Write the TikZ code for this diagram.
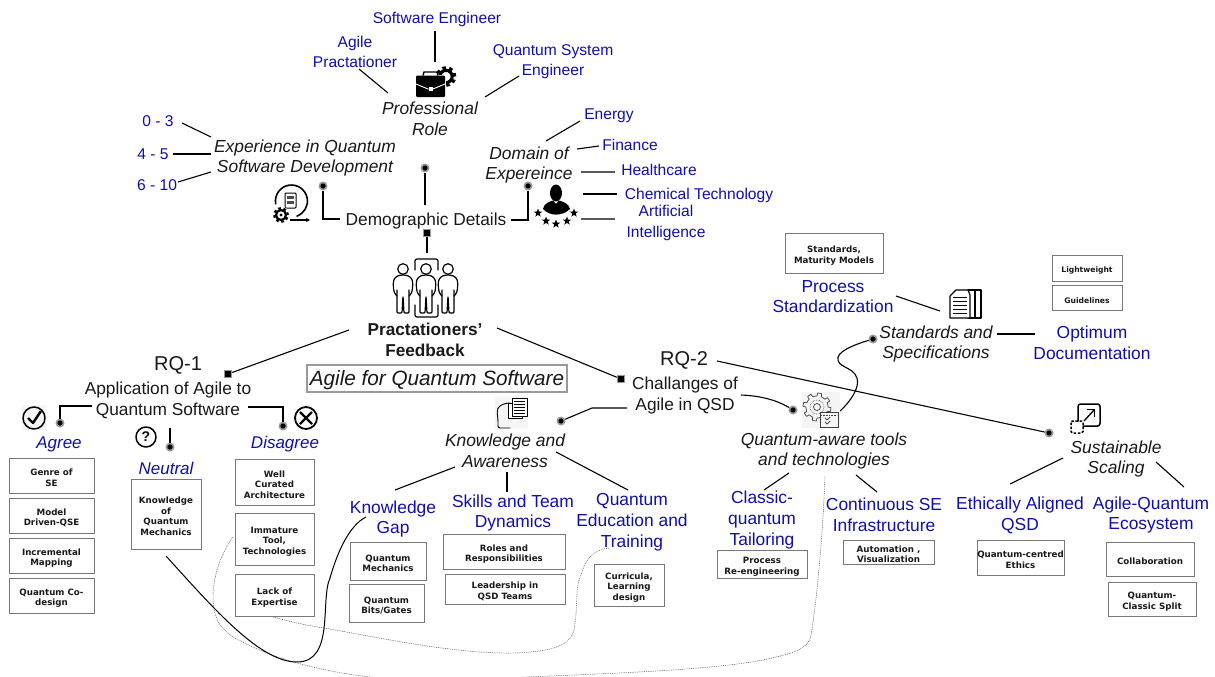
\documentclass[tikz,border=0pt]{standalone}
\usepackage{fontspec}
\setmainfont{Liberation Sans}
\newfontfamily\boxfont{DejaVu Sans}[BoldFont={DejaVu Sans Bold}]
\usetikzlibrary{shapes.geometric,calc,arrows.meta}
\definecolor{lbl}{HTML}{1010A8}
\definecolor{edgegray}{HTML}{787878}
\tikzset{
  x=1pt,y=-1pt,
  every node/.style={inner sep=0pt,outer sep=0pt,align=center},
  txt/.style={font=\fontsize{17.3}{20.8}\selectfont,text=black!90,yshift=-2pt},
  lab/.style={font=\fontsize{15.6}{20.6}\selectfont,text=lbl,yshift=-2pt},
  labb/.style={font=\fontsize{17.4}{20.8}\selectfont,text=lbl,yshift=-2pt},
  labi/.style={font=\fontsize{17}{20}\selectfont\itshape,text=lbl,yshift=-2pt},
  ital/.style={font=\fontsize{17.4}{20.8}\selectfont\itshape,text=black!90,yshift=-2pt},
  rq/.style={font=\fontsize{20}{24}\selectfont,text=black!90,yshift=-2pt},
  tbox/.style={draw=edgegray,line width=1pt,fill=white,font=\boxfont\bfseries\fontsize{8.7}{10.5}\selectfont,text=black!90},
  conn/.style={draw=black,line width=1.1pt},
  dotline/.style={draw=black!65,line width=.5pt,dash pattern=on .9pt off .9pt},
  ico/.style={draw=black,line width=1.2pt,line cap=round,line join=round},
  halo/.style={circle,fill=black!40,minimum size=9pt},
  sqhalo/.style={rectangle,fill=black!40,minimum size=8.5pt},
}
\newcommand\lnk[4][]{\coordinate (#2a) at (#3);\coordinate (#2b) at (#4);\draw[conn,#1] (#2a) -- (#2b);}
\newcommand\bx[6]{\node[tbox,minimum width={(#3-#1)*1pt},minimum height={(#4-#2)*1pt}] (#6) at ({(#1+#3)/2},{(#2+#4)/2}) {\rule{0pt}{11.5pt}#5};}
\newcommand\dotnode[2]{\node[halo] (#1) at (#2) {};\fill[black] (#1.center) circle (2.6pt);}
\newcommand\sqnode[2]{\node[sqhalo] (#1) at (#2) {};\fill[black] ($(#1.center)+(-2.8,-2.8)$) rectangle ($(#1.center)+(2.8,2.8)$);}
\newcommand\gearicon[4][black]{% centre, radius, ring width
  \pgfmathsetmacro\gearD{3.14159*(#3+#4*.8)/8}
  \draw[#1,line width=#4pt] (#2) circle (#3pt);
  \draw[#1,line width=#4pt,dash pattern=on \gearD pt off \gearD pt] (#2) circle ({(#3+#4*.8)*1pt});
}
\newcommand\personicon[1]{\begin{scope}[shift={(#1,0)}]
  \draw[ico] (0,269) circle (5.3pt);
  \draw[ico,rounded corners=3pt] (-6,296) -- (-9,293) -- (-10,282) -- (-8,277) -- (-3,275) -- (3,275) -- (8,277) -- (10,282) -- (9,293) -- (6,296);
  \draw[ico,rounded corners=1pt] (-6,290) -- (-6,313) -- (-1,313) -- (0,296) -- (1,313) -- (6,313) -- (6,290);
\end{scope}}
\begin{document}
\begin{tikzpicture}
\useasboundingbox (0,0) rectangle (1215,677);
\fill[white] (0,0) rectangle (1215,677);

% ---- curved dotted / solid overlays
\coordinate (d1a) at (233,537);\coordinate (d1b) at (825,476);
\draw[dotline] (d1a) .. controls (222,552) and (213,575) .. (213,597) .. controls (213,620) and (222,630) .. (235,638) .. controls (265,655) and (310,670) .. (370,677) .. controls (420,681) and (480,679) .. (527,677) .. controls (620,673) and (710,670) .. (763,660) .. controls (790,654) and (808,650) .. (811,636) .. controls (818,590) and (823,530) .. (d1b);
\coordinate (d2a) at (270,616);\coordinate (d2b) at (610,548);
\draw[dotline] (d2a) .. controls (290,622) and (310,626) .. (330,629) .. controls (390,640) and (460,654) .. (513,653) .. controls (545,652) and (570,648) .. (574,630) .. controls (579,600) and (574,590) .. (582,572) .. controls (586,558) and (595,549) .. (d2b);

\coordinate (s1a) at (166,556);\coordinate (s1b) at (366,517);
\draw[black,line width=1pt] (s1a) .. controls (215,610) and (260,662) .. (297,662) .. controls (335,662) and (320,600) .. (330,578) .. controls (338,550) and (350,525) .. (s1b);

% ---- text nodes: top
\node[lab] (swe) at (437,17) {Software Engineer};
\node[lab] (agp) at (355,50) {Agile\\Practationer};
\node[lab] (qse) at (553,59.5) {Quantum System\\Engineer};
\node[ital] (prof) at (430,117) {Professional\\Role};
\node[ital] (expq) at (305,156) {Experience in Quantum\\Software Development};
\node[lab] (e03) at (158,119) {0 - 3};
\node[lab] (e45) at (153,152) {4 - 5};
\node[lab] (e610) at (157,183) {6 - 10};
\node[ital] (dom) at (529,163) {Domain of\\Expereince};
\node[lab] (en) at (609,114) {Energy};
\node[lab] (fin) at (630,143) {Finance};
\node[lab] (hc) at (659,168) {Healthcare};
\node[lab] (chem) at (699,193) {Chemical Technology};
\node[lab] (ai) at (666,221) {Artificial\\Intelligence};
\node[txt] (demo) at (426,219) {Demographic Details};
\node[font=\fontsize{17.2}{20.8}\selectfont\bfseries,text=black!90,yshift=-1pt] (pf) at (425,339) {Practationers'\\Feedback};
\node[draw=black!40,line width=1.5pt,fill=white,minimum width=260pt,minimum height=27pt,font=\fontsize{20.7}{24}\selectfont\itshape,text=black!90] (title) at (437,378.5) {\rule{0pt}{19pt}Agile for Quantum Software};

% RQ-1
\node[rq] (rq1) at (178,363) {RQ-1};
\node[txt] (app) at (168,398) {Application of Agile to\\Quantum Software};
\node[labi] (agree) at (59,442) {Agree};
\node[labi] (neutral) at (166,466) {Neutral};
\node[labi] (disagree) at (285,442) {Disagree};
\bx{9}{458}{94}{493}{Genre of\\SE}{b1}
\bx{9}{498}{94}{533}{Model\\Driven-QSE}{b2}
\bx{9}{538}{94}{573}{Incremental\\Mapping}{b3}
\bx{9}{578}{94}{613}{Quantum Co-\\design}{b4}
\bx{131}{479}{201}{549}{Knowledge\\of\\Quantum\\Mechanics}{b5}
\bx{235}{459}{314}{505}{Well\\Curated\\Architecture}{b6}
\bx{235}{513}{314}{565}{Immature\\Tool,\\Technologies}{b7}
\bx{235}{574}{314}{616}{Lack of\\Expertise}{b8}

% RQ-2
\node[rq] (rq2) at (684,358) {RQ-2};
\node[txt] (chal) at (685,393.5) {Challanges of\\Agile in QSD};
\node[ital] (ka) at (505,449) {Knowledge and\\Awareness};
\node[ital] (qat) at (824,449) {Quantum-aware tools\\and technologies};
\node[ital] (sus) at (1116,457) {Sustainable\\Scaling};
\node[ital] (std) at (936,342) {Standards and\\Specifications};
\node[labb] (ps) at (833,294.5) {Process\\Standardization};
\node[labb] (od) at (1092,340.5) {Optimum\\Documentation};
\node[labb] (kg) at (393,517) {Knowledge\\Gap};
\node[labb] (st) at (513,511) {Skills and Team\\Dynamics};
\node[labb] (qe) at (632,520) {Quantum\\Education and\\Training};
\node[labb] (cq) at (762,518) {Classic-\\quantum\\Tailoring};
\node[labb] (cs) at (884,513) {Continuous SE\\Infrastructure};
\node[labb] (ea) at (1020,513) {Ethically Aligned\\QSD};
\node[labb] (aq) at (1151,513) {Agile-Quantum\\Ecosystem};

\bx{785}{233}{883}{273}{Standards,\\Maturity Models}{c1}
\bx{1052}{255}{1122}{281}{\fontsize{7.6}{9}\selectfont Lightweight}{c2}
\bx{1052}{285}{1122}{310}{\fontsize{7.6}{9}\selectfont Guidelines}{c3}
\bx{350}{542}{426}{580}{Quantum\\Mechanics}{c4}
\bx{349}{584}{424}{622}{Quantum\\Bits/Gates}{c5}
\bx{443}{534}{565}{569}{Roles and\\Responsibilities}{c6}
\bx{445}{574}{565}{604}{Leadership in\\QSD Teams}{c7}
\bx{594}{564}{664}{606}{Curricula,\\Learning\\design}{c8}
\bx{717}{550}{807}{578}{Process\\Re-engineering}{c9}
\bx{843}{540}{934}{564}{Automation ,\\Visualization}{c10}
\bx{977}{540}{1064}{575}{Quantum-centred\\Ethics}{c11}
\bx{1106}{542}{1194}{576}{Collaboration}{c12}
\bx{1108}{582}{1196}{616}{Quantum-\\Classic Split}{c13}

% ---- straight connectors
\lnk{l1}{435,31}{435,62}
\lnk{l2}{359,69}{388,93}
\lnk{l3}{519,76}{485,97}
\lnk{l4}{182,123}{211,137}
\lnk{l5}{173,154}{211,154}
\lnk{l6}{178,182}{211,172}
\lnk{l7}{580,121}{546,141}
\lnk{l8}{599,146}{577,149}
\lnk[draw=black!65]{l9}{581,172}{615,172}
\lnk{l10}{583,194}{617,194}
\lnk[draw=black!65]{l11}{581,219}{615,219}

\dotnode{da}{323,186}
\coordinate (dae) at (340,219);
\draw[conn] (da) -- (323,219) -- (dae);
\dotnode{db}{425,168}
\coordinate (dbe) at (425,205);
\draw[conn] (db) -- (dbe);
\dotnode{dc}{528,186}
\coordinate (dce) at (511,220);
\draw[conn] (dc) -- (528,220) -- (dce);

\sqnode{sa}{427,233}
\coordinate (sae) at (427,253);
\draw[conn] (sa) -- (sae);

\sqnode{sb}{228,374}
\coordinate (sbe) at (349,330);
\draw[conn] (sb) -- (sbe);
\sqnode{sc}{621,379}
\coordinate (sce) at (497,328);
\draw[conn] (sc) -- (sce);

\dotnode{de}{60,423}
\coordinate (dee) at (92,406);
\draw[conn] (de) -- (60,406) -- (dee);
\dotnode{df}{283,426}
\coordinate (dfe) at (248,407);
\draw[conn] (df) -- (283,407) -- (dfe);
\dotnode{dg}{170,447}
\coordinate (dge) at (170,428);
\draw[conn] (dg) -- (dge);

\dotnode{dh}{561,421}
\coordinate (dhe) at (627,408);
\draw[conn] (dh) -- (592,408) -- (dhe);
\dotnode{di}{793,410}
\coordinate (die) at (741,395);
\draw[conn] (die) .. controls (765,396) and (780,402) .. (di);
\dotnode{dj}{1049,433}
\coordinate (dje) at (717,361);
\draw[conn] (dje) -- (dj);
\dotnode{dk}{873,339}
\coordinate (dke) at (840,411);
\draw[conn] (dke) .. controls (850,402) and (860,388) .. (857,378) .. controls (853,366) and (836,368) .. (838,357) .. controls (841,349) and (860,343) .. (dk);

\lnk{l12}{896,296}{940,311}
\lnk{l13}{997,334}{1035,334}
\lnk{l14}{395,490}{455,467}
\lnk{l15}{507,472}{507,492}
\lnk{l16}{556,452}{628,490}
\lnk{l17}{764,490}{789,473}
\lnk{l18}{856,475}{877,492}
\lnk{l19}{1010,484}{1063,458}
\lnk{l20}{1156,462}{1184,487}

% ---- icons
% briefcase + gear
\gearicon{446,76.5}{6.2}{3.2}
\fill[white] (414,75) rectangle (446,99);
\fill[black,rounded corners=1pt] (416,75.5) rectangle (445,97);
\draw[black,line width=1.4pt] (423,75.5) -- (424,72) -- (437,72) -- (438,75.5);
\draw[white,line width=.9pt] (416,84) -- (428,89) -- (433,89) -- (445,84);
\fill[white] (428.5,86.5) rectangle (432.5,91);

% process icon
\draw[ico,line width=1.6pt] (275.7,203.8) arc (170:430:16);
\draw[ico,fill=white,line width=1pt,rounded corners=.8pt] (285,193) rectangle (296,208);
\fill[black!70] (287,196) rectangle (294,199);\fill[black!70] (287,201) rectangle (294,204);
\fill[white] (281,215) circle (8.5pt);
\gearicon{281,215}{5}{2.2}
\fill[black] (281,215) circle (1.6pt);
\draw[black,line width=1.2pt,-{Stealth[length=4pt,width=4pt]}] (290,220) -- (310,220);

% person with stars
\fill[black] (556,193) ellipse (6pt and 8.5pt);
\fill[black] (543,209) .. controls (544,203) and (550,201.5) .. (553,200.5) -- (556,204) -- (559,200.5) .. controls (562,201.5) and (569,203) .. (570,209) .. controls (562,216.5) and (550,216.5) .. (543,209) -- cycle;
\foreach \i/\p in {1/{538,213},2/{546,221},3/{556,224},4/{567,221},5/{574,213}}{
  \node[star,star points=5,star point ratio=2.4,fill=black,minimum size=9pt] (st\i) at (\p) {};
}

% people group
\personicon{403}
\personicon{426}
\personicon{448}
\draw[ico,rounded corners=2pt] (415,270) -- (415,259) -- (438,259) -- (438,270);
\draw[ico,rounded corners=2pt] (415,305) -- (415,317) -- (438,317) -- (438,305);

% check, question, cross
\fill[black!4] (22,405) rectangle (46,430);
\draw[ico,line width=1.5pt] (34,418) circle (11pt);
\draw[black,line width=2.4pt,line join=round] (28,418) -- (33,423) -- (41,411);
\draw[ico,line width=1.5pt] (146,437) circle (10pt);
\node[font=\fontsize{14}{14}\selectfont\bfseries] (qm) at (146,437) {?};
\draw[ico,line width=1.8pt] (306,418) circle (11pt);
\draw[black,line width=2.4pt] (300,412) -- (312,424) (312,412) -- (300,424);

% head with document
\fill[black!4] (495,397) rectangle (528,429);
\draw[ico,line width=.9pt,rounded corners=2pt] (510,428) -- (498,428) -- (498,420) -- (497,411) .. controls (499,405) and (505,403) .. (510,403);
\draw[ico,fill=white,line width=.9pt] (508,403) rectangle (522,418);
\draw[ico,fill=white,line width=.9pt] (512,398) rectangle (527,416);
\foreach \y in {401,404,407,410,413}{\draw[black,line width=.6pt] (514,\y) -- (525,\y);}

% gear + checklist
\fill[black!4] (802,392) rectangle (840,428);
\draw[black!75,line width=.7pt,line join=round] plot[domain=0:360,samples=129] ({817+(11+3*(sin(8*\x)>0))*cos(\x)},{407+(11+3*(sin(8*\x)>0))*sin(\x)}) -- cycle;
\draw[black!75,line width=.6pt,densely dotted] (817,407) circle (7pt);
\draw[black!75,line width=.7pt] (817,407) circle (3.5pt);
\draw[black!75,fill=black!4,line width=1pt] (820,412) rectangle (838,427);
\draw[black!75,line width=.6pt,densely dotted] (821,415) -- (837,415);
\draw[black!80,line width=.7pt] (825,418) -- (827,420) -- (830,417) (825,422) -- (827,424) -- (830,421);

% documents
\draw[ico,line width=1.2pt] (968,290) -- (981,290) -- (981,318) -- (968,318);
\draw[ico,line width=1.2pt] (975,290) -- (975,318);
\draw[ico,fill=white,line width=1.2pt] (956,290) -- (968,290) -- (970,295) -- (970,318) -- (950,318) -- (950,296) -- cycle;
\foreach \y in {297,301,305,309,313}{\draw[black,line width=1pt] (953,\y) -- (967,\y);}

% scaling icon
\draw[ico,line width=1.5pt,rounded corners=2.5pt] (1078,421) -- (1078,404) -- (1100,404) -- (1100,426) -- (1083,426);
\draw[black,line width=1.3pt] (1084,421) -- (1094,410);
\draw[black,line width=1.3pt] (1087,409.5) -- (1094.5,409.5) -- (1094.5,417);
\draw[black,line width=1.5pt,dash pattern=on 2.5pt off 1.6pt,rounded corners=1.5pt] (1071,421) rectangle (1083,433);
\end{tikzpicture}
\end{document}
